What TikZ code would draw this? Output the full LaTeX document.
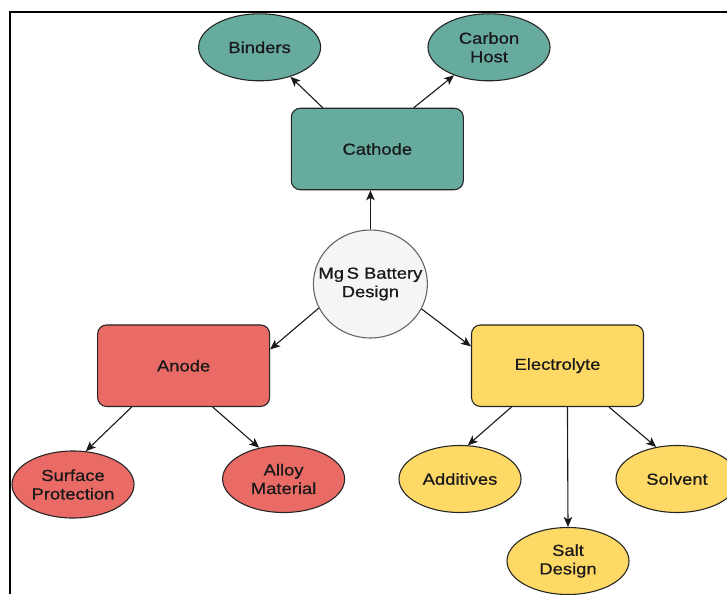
\documentclass[tikz,border=0pt]{standalone}
\usepackage{fontspec}
\setmainfont{Liberation Sans}[FakeStretch=1.15,FakeBold=0.7]
\usetikzlibrary{shapes.geometric,arrows.meta,calc}

\definecolor{tealfill}{HTML}{67AB9F}
\definecolor{redfill}{HTML}{EA6B66}
\definecolor{yellowfill}{HTML}{FFD966}
\definecolor{hubfill}{HTML}{F5F5F5}
\definecolor{hubline}{HTML}{666666}

\tikzset{
  lbl/.style={font=\fontsize{16}{18.5}\selectfont, align=center, text=black!90},
  topic/.style={lbl, draw=black!85, line width=1.1pt, rounded corners=9pt,
    minimum width=172pt, minimum height=81.5pt, inner sep=0pt},
  leaf/.style={lbl, ellipse, draw=black!85, line width=1.1pt,
    minimum width=122pt, minimum height=67pt, inner sep=0pt},
  hub/.style={lbl, ellipse, draw=hubline, fill=hubfill, line width=1.1pt,
    minimum width=114pt, minimum height=108pt, inner xsep=-13pt, inner ysep=0pt},
  arr/.style={draw=black!90, line width=1.1pt, -{Stealth[length=10pt,width=8.5pt,inset=2.5pt]}},
  frameline/.style={draw=black, line width=2pt}
}

\begin{document}
\begin{tikzpicture}[x=1pt,y=-1pt]
  \useasboundingbox (0,0) rectangle (727,594);

  % outer frame (only the left and top edges fall inside the page)
  \draw[frameline] (10,594) -- (10,12) -- (727,12);

  % central hub
  \node[hub] (mgs) at (370.4,284) {Mg\,S Battery\\Design};

  % three branches
  \node[topic, fill=tealfill] (cathode) at (377.3,149) {Cathode};
  \node[topic, fill=redfill] (anode) at (183.6,365.7) {Anode};
  \node[topic, fill=yellowfill] (electrolyte) at (557.5,365.7) {Electrolyte};

  % cathode leaves
  \node[leaf, fill=tealfill] (binders) at (259.6,47.3) {Binders};
  \node[leaf, fill=tealfill] (carbon) at (489,47.3) {Carbon\\Host};

  % anode leaves
  \node[leaf, fill=redfill] (surface) at (73,484.5) {Surface\\Protection};
  \node[leaf, fill=redfill] (alloy) at (283.6,479) {Alloy\\Material};

  % electrolyte leaves
  \node[leaf, fill=yellowfill] (additives) at (460,479) {Additives};
  \node[leaf, fill=yellowfill] (solvent) at (677,479) {Solvent};
  \node[leaf, fill=yellowfill] (salt) at (568,561) {Salt\\Design};

  % hub to branches
  \draw[arr] (mgs.north) -- (mgs.north |- cathode.south);
  \draw[arr] (mgs.205.5) -- ($(anode.north east)+(0,25)$);
  \draw[arr] (mgs.334.5) -- ($(electrolyte.north west)+(0,22)$);

  % cathode to leaves
  \draw[arr] ($(cathode.north west)+(32,0)$) -- (binders);
  \draw[arr] ($(cathode.north west)+(123,0)$) -- (carbon);

  % anode to leaves
  \draw[arr] ($(anode.south west)+(34.6,0)$) -- (surface.69);
  \draw[arr] ($(anode.south west)+(115.6,0)$) -- (alloy.128);

  % electrolyte to leaves
  \draw[arr] ($(electrolyte.south west)+(40.5,0)$) -- (additives.77);
  \draw[arr] ($(electrolyte.south west)+(96.5,0)$) -- (salt.north);
  \draw[arr] ($(electrolyte.south west)+(138,0)$) -- (solvent.123);
\end{tikzpicture}
\end{document}
